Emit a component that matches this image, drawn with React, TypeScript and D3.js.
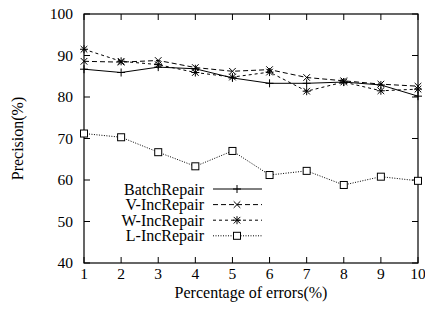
import { useMemo } from "react";
import * as d3 from "d3";

const WIDTH = 425;
const HEIGHT = 315;
const MARGIN = { top: 14, right: 7, bottom: 52, left: 84 };

const errorRates = [1, 2, 3, 4, 5, 6, 7, 8, 9, 10];
const batchRepair = [86.7, 85.9, 87.2, 86.8, 84.6, 83.3, 83.3, 83.6, 82.9, 80.2];
const vIncRepair = [88.6, 88.4, 88.8, 87.1, 86.2, 86.6, 84.7, 83.9, 83.1, 82.6];
const wIncRepair = [91.5, 88.6, 87.8, 85.9, 84.8, 86.0, 81.4, 83.6, 81.5, 81.9];
const lIncRepair = [71.2, 70.3, 66.7, 63.3, 67.0, 61.2, 62.2, 58.8, 60.8, 59.8];
const yTicks = [40, 50, 60, 70, 80, 90, 100];

const FONT = "Liberation Serif, Times New Roman, Times, serif";

type Marker = "plus" | "cross" | "star" | "square";

const series: { name: string; values: number[]; dash: string; marker: Marker }[] = [
  { name: "BatchRepair", values: batchRepair, dash: "none", marker: "plus" },
  { name: "V-IncRepair", values: vIncRepair, dash: "5,3", marker: "cross" },
  { name: "W-IncRepair", values: wIncRepair, dash: "3,3", marker: "star" },
  { name: "L-IncRepair", values: lIncRepair, dash: "1,1.5", marker: "square" },
];

const MarkerShape = ({ kind, x, y }: { kind: Marker; x: number; y: number }) => {
  const s = 4;
  const d = 3.3;
  const plus = `M${x - s},${y}H${x + s}M${x},${y - s}V${y + s}`;
  const cross = `M${x - d},${y - d}L${x + d},${y + d}M${x - d},${y + d}L${x + d},${y - d}`;
  if (kind === "square") {
    return <rect x={x - 3.5} y={y - 3.5} width={7} height={7} fill="white" stroke="black" strokeWidth={1} />;
  }
  const path = kind === "plus" ? plus : kind === "cross" ? cross : plus + cross;
  return <path d={path} stroke="black" strokeWidth={1} fill="none" />;
};

export default function App() {
  const boundsWidth = WIDTH - MARGIN.left - MARGIN.right;
  const boundsHeight = HEIGHT - MARGIN.top - MARGIN.bottom;

  const xScale = useMemo(() => d3.scaleLinear().domain([1, 10]).range([0, boundsWidth]), [boundsWidth]);
  const yScale = useMemo(() => d3.scaleLinear().domain([40, 100]).range([boundsHeight, 0]), [boundsHeight]);

  const lineGen = d3
    .line<number>()
    .x((_, i) => xScale(errorRates[i]))
    .y((d) => yScale(d));

  const tick = 6;

  return (
    <svg width={WIDTH} height={HEIGHT} style={{ position: "absolute", left: 0, top: 0 }}>
      <g transform={`translate(${MARGIN.left},${MARGIN.top})`} style={{ fontFamily: FONT }} fontSize={15.5}>
        {/* ticks, mirrored on all four sides */}
        {errorRates.map((v) => (
          <g key={"x" + v}>
            <line x1={xScale(v)} x2={xScale(v)} y1={boundsHeight} y2={boundsHeight - tick} stroke="black" />
            <line x1={xScale(v)} x2={xScale(v)} y1={0} y2={tick} stroke="black" />
            <text x={xScale(v)} y={boundsHeight + 16} textAnchor="middle">
              {v}
            </text>
          </g>
        ))}
        {yTicks.map((v) => (
          <g key={"y" + v}>
            <line x1={0} x2={tick} y1={yScale(v)} y2={yScale(v)} stroke="black" />
            <line x1={boundsWidth} x2={boundsWidth - tick} y1={yScale(v)} y2={yScale(v)} stroke="black" />
            <text x={-11} y={yScale(v)} dy="0.35em" textAnchor="end">
              {v}
            </text>
          </g>
        ))}
        <rect x={0} y={0} width={boundsWidth} height={boundsHeight} fill="none" stroke="black" strokeWidth={1.2} />

        {series.map((s) => (
          <g key={s.name}>
            <path d={lineGen(s.values) ?? ""} fill="none" stroke="black" strokeWidth={1} strokeDasharray={s.dash} />
            {s.values.map((v, i) => (
              <MarkerShape key={i} kind={s.marker} x={xScale(errorRates[i])} y={yScale(v)} />
            ))}
          </g>
        ))}

        {/* legend */}
        {series.map((s, i) => {
          const ly = 175 + i * 15.6;
          return (
            <g key={"lg" + s.name}>
              <text x={120} y={ly} dy="0.35em" textAnchor="end" fontSize={16}>
                {s.name}
              </text>
              <line x1={129} x2={178} y1={ly} y2={ly} stroke="black" strokeDasharray={s.dash} />
              <MarkerShape kind={s.marker} x={153} y={ly} />
            </g>
          );
        })}

        <text x={boundsWidth / 2} y={boundsHeight + 35} textAnchor="middle" fontSize={16}>
          Percentage of errors(%)
        </text>
        <text
          transform={`translate(${-61},${boundsHeight / 2}) rotate(-90)`}
          textAnchor="middle"
          fontSize={16}
        >
          Precision(%)
        </text>
      </g>
    </svg>
  );
}
